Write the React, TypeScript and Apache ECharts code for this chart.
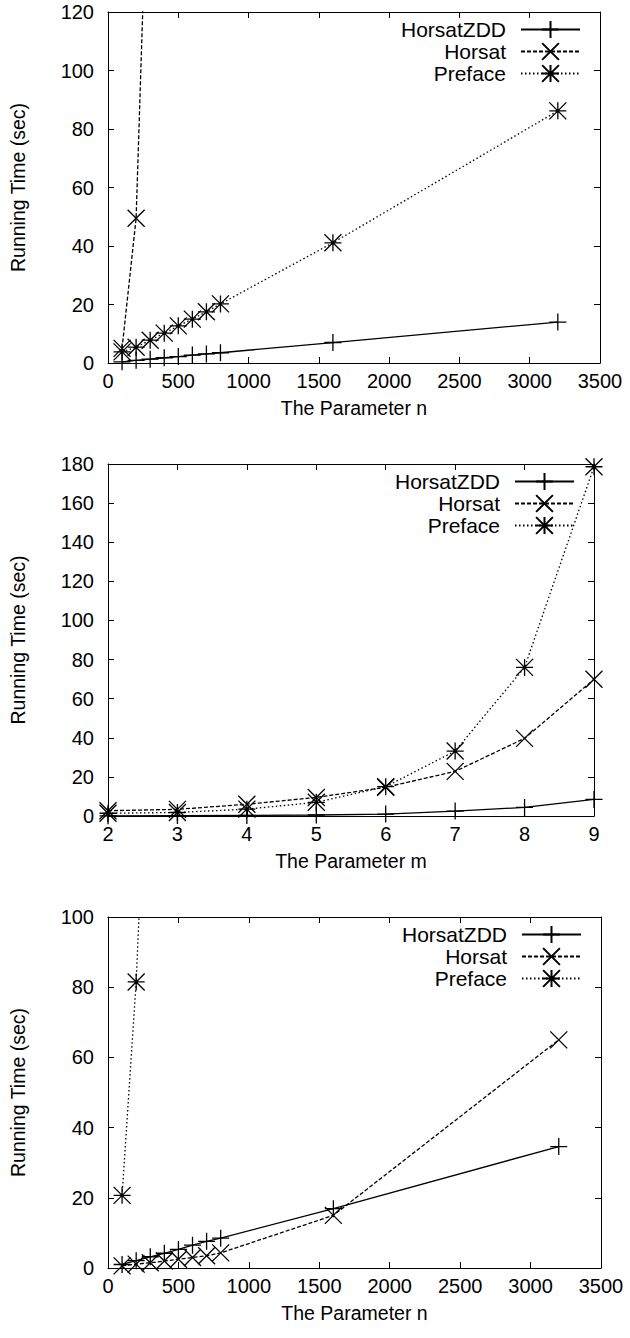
import React, { useEffect, useRef } from "react";
import * as echarts from "echarts";

// ---- data ----
const nValues1 = [100, 200, 300, 400, 500, 600, 700, 800, 1600, 3200];
const zdd1 = [0.4, 0.9, 1.3, 1.8, 2.2, 2.7, 3.1, 3.5, 7.0, 14.0];
const horsatN1 = [100, 200, 300];
const horsat1 = [5.0, 49.5, 200];
const preface1 = [3.8, 5.4, 7.8, 10.2, 12.7, 15.0, 17.5, 20.2, 41.1, 86.2];

const mValues2 = [2, 3, 4, 5, 6, 7, 8, 9];
const zdd2 = [0.1, 0.2, 0.3, 0.5, 1.0, 2.5, 4.4, 8.5];
const horsat2 = [2.7, 3.4, 6.0, 9.5, 14.7, 22.8, 39.7, 69.9];
const preface2 = [1.4, 1.8, 3.5, 7.0, 15.0, 33.2, 76.0, 178.6];

const nValues3 = [100, 200, 300, 400, 500, 600, 700, 800, 1600, 3200];
const zdd3 = [1.0, 2.1, 3.2, 4.2, 5.3, 6.5, 7.6, 8.5, 16.9, 34.6];
const horsat3 = [0.6, 1.1, 1.5, 2.0, 2.5, 3.0, 3.5, 4.3, 15.0, 65.0];
const prefaceN3 = [100, 200, 300];
const preface3 = [20.7, 81.5, 174];

const seriesNames = ["HorsatZDD", "Horsat", "Preface"];
const yAxisTitle = "Running Time (sec)";
const xTitles = ["The Parameter n", "The Parameter m", "The Parameter n"];

// ---- styling ----
const FONT = "'Liberation Sans', Arial, Helvetica, sans-serif";
const FS_TICK = 20;
const FS_NAME = 19.5;
const FS_LEGEND = 21;
const SYM = 17;
const PLUS = "path://M0,5L10,5M5,0L5,10";
const CROSS = "path://M0,0L10,10M0,10L10,0";
const STAR = "path://M0,5L10,5M5,0L5,10M0,0L10,10M0,10L10,0";

const grids = [
  { left: 108, top: 12, width: 492, height: 351 },
  { left: 107, top: 464, width: 487, height: 352 },
  { left: 108, top: 917, width: 493, height: 351 },
];
const xRanges = [
  { min: 0, max: 3500, interval: 500 },
  { min: 2, max: 9, interval: 1 },
  { min: 0, max: 3500, interval: 500 },
];
const yRanges = [
  { min: 0, max: 120, interval: 20 },
  { min: 0, max: 180, interval: 20 },
  { min: 0, max: 100, interval: 20 },
];

const pairs = (xs: number[], ys: number[]) => xs.map((x, i) => [x, ys[i]]);

const styleFor = [
  { symbol: PLUS, type: "solid" as any },
  { symbol: CROSS, type: [4, 2] as any },
  { symbol: STAR, type: [1.5, 2.5] as any },
];

export default function App() {
  const ref = useRef<HTMLDivElement>(null);
  useEffect(() => {
    if (!ref.current) return;
    const chart = echarts.init(ref.current, null, { renderer: "svg" });

    const plain = (v: number) => String(v);
    const xAxes: any[] = [];
    const yAxes: any[] = [];
    grids.forEach((_, gi) => {
      const common = { type: "value", gridIndex: gi, splitLine: { show: false } };
      const line = { show: true, onZero: false, lineStyle: { color: "#000", width: 1 } };
      const tick = { show: true, inside: true, length: 6, lineStyle: { color: "#000" } };
      xAxes.push({
        ...common,
        ...xRanges[gi],
        position: "bottom",
        axisLine: line,
        axisTick: tick,
        axisLabel: { show: true, color: "#000", fontSize: FS_TICK, fontFamily: FONT, margin: 8, formatter: plain },
        name: xTitles[gi],
        nameLocation: "middle",
        nameGap: 35,
        nameTextStyle: { color: "#000", fontSize: FS_NAME, fontFamily: FONT },
      });
      xAxes.push({
        ...common,
        ...xRanges[gi],
        position: "top",
        axisLine: line,
        axisTick: tick,
        axisLabel: { show: false },
      });
      yAxes.push({
        ...common,
        ...yRanges[gi],
        position: "left",
        axisLine: line,
        axisTick: tick,
        axisLabel: { show: true, color: "#000", fontSize: FS_TICK, fontFamily: FONT, margin: 14, formatter: plain },
        name: yAxisTitle,
        nameLocation: "middle",
        nameGap: 80,
        nameTextStyle: { color: "#000", fontSize: FS_NAME, fontFamily: FONT },
      });
      yAxes.push({
        ...common,
        ...yRanges[gi],
        position: "right",
        axisLine: line,
        axisTick: tick,
        axisLabel: { show: false },
      });
    });

    const chartData = [
      [pairs(nValues1, zdd1), pairs(horsatN1, horsat1), pairs(nValues1, preface1)],
      [pairs(mValues2, zdd2), pairs(mValues2, horsat2), pairs(mValues2, preface2)],
      [pairs(nValues3, zdd3), pairs(nValues3, horsat3), pairs(prefaceN3, preface3)],
    ];

    const series: any[] = [];
    chartData.forEach((sets, gi) => {
      sets.forEach((data, si) => {
        series.push({
          type: "line",
          name: seriesNames[si],
          xAxisIndex: gi * 2,
          yAxisIndex: gi * 2,
          data,
          clip: true,
          symbol: styleFor[si].symbol,
          symbolSize: SYM,
          showAllSymbol: true,
          itemStyle: { color: "#000", borderColor: "#000", borderWidth: 1.3 },
          lineStyle: { color: "#000", width: 1.3, type: styleFor[si].type },
          emphasis: { disabled: true },
          z: 3 - si,
        });
      });
    });

    const legends = grids.map((g) => ({
      show: true,
      orient: "vertical",
      align: "right",
      right: 630 - (g.left + g.width - 26) - 7,
      top: g.top + 7,
      padding: 0,
      itemGap: 1,
      itemWidth: 59,
      itemHeight: 21,
      selectedMode: false,
      data: seriesNames,
      textStyle: { color: "#000", fontSize: FS_LEGEND, fontFamily: FONT, padding: [0, 10, 0, 0] },
    }));

    chart.setOption({
      animation: false,
      backgroundColor: "#fff",
      grid: grids,
      xAxis: xAxes,
      yAxis: yAxes,
      legend: legends,
      series,
    });
    return () => chart.dispose();
  }, []);
  return (
    <div
      ref={ref}
      style={{ position: "absolute", left: 0, top: 0, width: 630, height: 1338 }}
    />
  );
}
